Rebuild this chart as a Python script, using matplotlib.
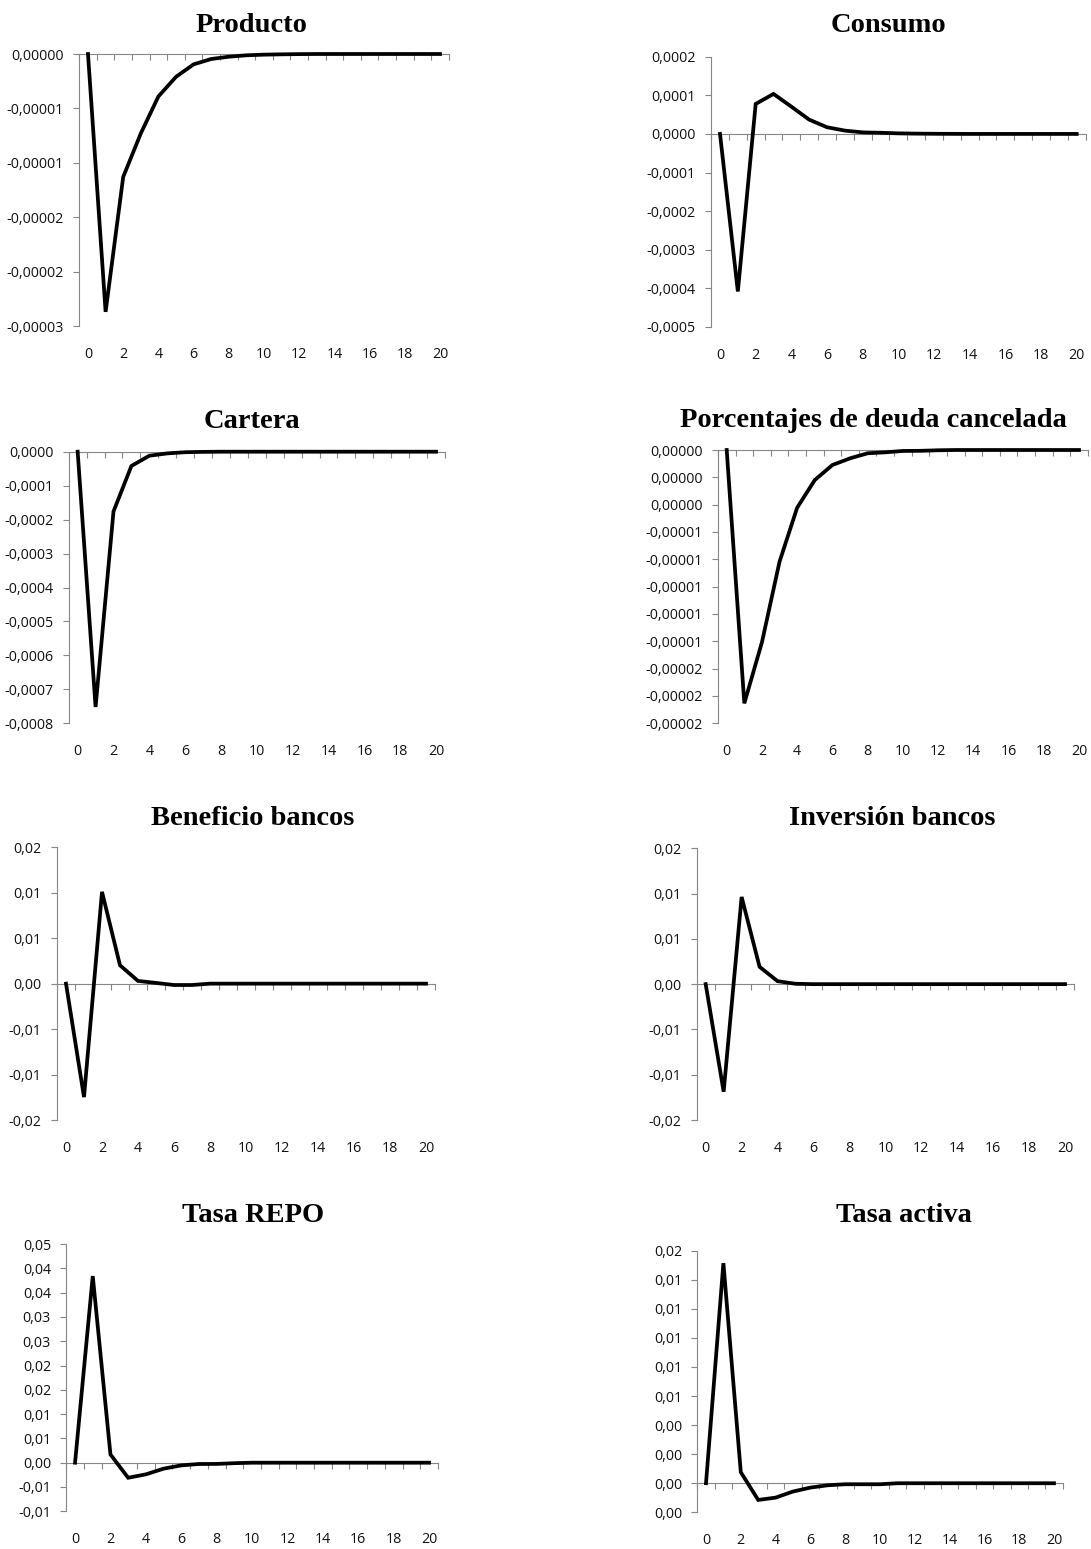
import matplotlib
matplotlib.use("Agg")
import matplotlib.pyplot as plt
from decimal import Decimal, ROUND_HALF_UP

periods = list(range(21))

producto = [0, -0.0000237, -0.0000113, -0.0000073, -0.0000039, -0.0000021,
            -0.00000095, -0.00000046, -0.00000025, -0.00000012, -0.00000006,
            -0.00000003, -0.00000001, 0, 0, 0, 0, 0, 0, 0, 0]
consumo = [0, -0.000408, 0.0000777, 0.0001036, 0.0000707, 0.000037, 0.0000173,
           0.0000086, 0.000004, 0.000003, 0.0000015, 0.0000008, 0.0000004,
           0.0000002, 0, 0, 0, 0, 0, 0, 0]
cartera = [0, -0.000752, -0.000176, -0.000042, -0.0000118, -0.000005,
           -0.0000015, -0.0000005, 0, 0, 0, 0, 0, 0, 0, 0, 0, 0, 0, 0, 0]
deuda = [0, -0.00001854, -0.00001407, -0.00000817, -0.00000422, -0.0000022,
         -0.0000011, -0.00000061, -0.00000024, -0.00000017, -0.00000007,
         -0.00000006, -0.00000002, 0, 0, 0, 0, 0, 0, 0, 0]
beneficio = [0, -0.01248, 0.0101, 0.00202, 0.0003, 0.00008, -0.00015, -0.00015,
             0, 0, 0, 0, 0, 0, 0, 0, 0, 0, 0, 0, 0]
inversion = [0, -0.01188, 0.00963, 0.00191, 0.00033, 0.00004, 0, 0, 0, 0, 0,
             0, 0, 0, 0, 0, 0, 0, 0, 0, 0]
repo = [0, 0.0384, 0.0017, -0.0031, -0.0024, -0.00123, -0.00055, -0.00027,
        -0.00025, -0.0001, 0, 0, 0, 0, 0, 0, 0, 0, 0, 0, 0]
activa = [0, 0.01514, 0.00076, -0.00115, -0.00099, -0.00057, -0.0003, -0.00014,
          -0.00007, -0.00007, -0.00007, 0, 0, 0, 0, 0, 0, 0, 0, 0, 0]

titles = ["Producto", "Consumo", "Cartera", "Porcentajes de deuda cancelada",
          "Beneficio bancos", "Inversión bancos", "Tasa REPO", "Tasa activa"]
series = [producto, consumo, cartera, deuda, beneficio, inversion, repo, activa]
# y range (low, high), tick step, decimals shown
y_ranges = [(-0.000025, 0), (-0.0005, 0.0002), (-0.0008, 0), (-0.00002, 0),
            (-0.015, 0.015), (-0.015, 0.015), (-0.01, 0.045), (-0.002, 0.016)]
y_steps = [0.000005, 0.0001, 0.0001, 0.000002, 0.005, 0.005, 0.005, 0.002]
y_decimals = [5, 4, 4, 5, 2, 2, 2, 2]

# plot boxes in pixels: left, right, top, bottom ; title centre x, baseline y
W, H = 1091, 1549
boxes = [(79.2, 448.8, 54, 326), (711.1, 1085.6, 56.7, 327),
         (68.7, 445, 451.7, 723.3), (717.9, 1087.8, 450, 723.3),
         (57, 435, 847.3, 1120), (696.7, 1074, 848.3, 1120),
         (66.2, 437.9, 1244, 1511.3), (697.3, 1062.7, 1250.7, 1512.3)]
title_pos = [(252, 32), (888, 32), (252, 428), (873, 427),
             (253, 825), (892, 825), (253, 1222), (904, 1222)]


def excel_label(v, dec):
    q = Decimal(repr(round(v, 12))).quantize(Decimal(1).scaleb(-dec),
                                              rounding=ROUND_HALF_UP)
    if q == 0:
        q = abs(q)
    return f"{q:.{dec}f}".replace(".", ",")


plt.rcParams["font.family"] = ["Open Sans", "DejaVu Sans"]
axis_gray = "#868686"
text_col = "#111111"
lab_size = 10.3

fig = plt.figure(figsize=(W / 100, H / 100), dpi=100)

for i in range(8):
    l, r, t, b = boxes[i]
    ax = fig.add_axes([l / W, 1 - b / H, (r - l) / W, (b - t) / H])
    ax.plot(periods, series[i], color="black", lw=2.7, solid_joinstyle="miter",
            clip_on=False, zorder=3)
    lo, hi = y_ranges[i]
    ax.set_xlim(-0.5, 20.5)
    ax.set_ylim(lo, hi)

    n = int(round((hi - lo) / y_steps[i]))
    yt = [round(lo + k * y_steps[i], 12) for k in range(n + 1)]
    ax.set_yticks(yt, [excel_label(v, y_decimals[i]) for v in yt])

    ax.set_xticks([k + 0.5 for k in range(-1, 21)], [])
    for s in ["top", "right"]:
        ax.spines[s].set_visible(False)
    ax.spines["left"].set_color(axis_gray)
    ax.spines["bottom"].set_color(axis_gray)
    ax.spines["bottom"].set_position(("data", 0))
    ax.tick_params(axis="y", direction="out", length=4.5, width=0.8,
                   color=axis_gray, pad=6.5, labelsize=lab_size,
                   labelcolor=text_col)
    ax.tick_params(axis="x", direction="out", length=4, width=0.8,
                   color=axis_gray)

    sec = ax.secondary_xaxis("bottom")
    sec.set_xticks(list(range(0, 21, 2)))
    sec.spines["bottom"].set_visible(False)
    sec.tick_params(length=0, pad=15, labelsize=lab_size, labelcolor=text_col)

    tx, ty = title_pos[i]
    fig.text(tx / W, 1 - ty / H, titles[i], ha="center", va="baseline",
             fontsize=20.5, fontweight="bold", family="Liberation Serif",
             color="black")

fig.savefig("out.png", dpi=100)
